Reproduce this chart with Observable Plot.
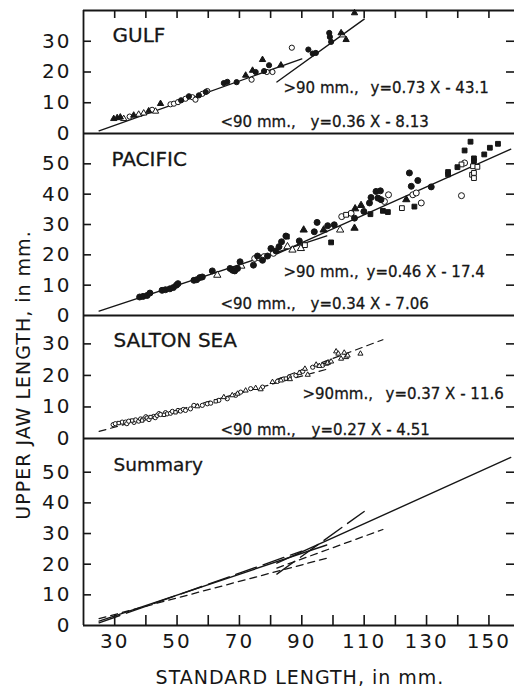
<!DOCTYPE html>
<html>
<head>
<meta charset="utf-8">
<script src="https://cdn.jsdelivr.net/npm/d3@7"></script>
<script src="https://cdn.jsdelivr.net/npm/@observablehq/plot@0.6"></script>
<style>
  body { margin: 0; background: #fff; }
  #fig { position: relative; width: 514px; height: 688px; overflow: hidden; background: #fff;
         font-family: "DejaVu Sans", sans-serif; color: #161616; }
  #fig svg { position: absolute; left: 0; }
  #fig svg [aria-label="y-axis tick label"] text,
  #fig svg [aria-label="x-axis tick label"] text { letter-spacing: 2px; }
  .axis-title { position: absolute; white-space: nowrap; font-size: 19px; letter-spacing: 1px; }
</style>
</head>
<body>
<div id="fig"></div>
<script>
// Each point: standard length (mm), upper jaw length (mm), marker code
// marker code: first letter f = filled / o = open, second c = circle, t = triangle, s = square
const gulfPoints = [
  [29.7,4.8,"ft"],[30.8,5.1,"ft"],[31.8,5.3,"ft"],[32.9,4.8,"ot"],[34.8,5.5,"oc"],[36.1,5.9,"ft"],
  [37.7,6.2,"ot"],[39.3,6.6,"ot"],[40.9,7.3,"ft"],[42.0,7.7,"oc"],[43.1,7.2,"ot"],[44.7,9.7,"ft"],
  [47.9,9.5,"oc"],[49.0,9.7,"oc"],[50.3,10.2,"oc"],[51.3,10.8,"fc"],[52.7,11.3,"oc"],[53.8,12.1,"fc"],
  [54.9,11.8,"oc"],[55.9,11.0,"oc"],[57.0,12.4,"fc"],[58.1,12.9,"oc"],[59.2,13.5,"fc"],[59.7,13.8,"oc"],
  [65.0,16.4,"fc"],[66.1,16.8,"fc"],[69.1,16.7,"fc"],[72.0,18.9,"ft"],[73.9,17.5,"oc"],[74.2,20.5,"ft"],
  [75.2,20.0,"fc"],[77.4,24.0,"ft"],[77.9,20.3,"fc"],[78.8,20.0,"oc"],[79.5,22.2,"fc"],[80.6,20.0,"oc"],
  [83.3,22.2,"ft"],[86.8,27.9,"oc"],[92.1,27.3,"fc"],[93.5,26.0,"fc"],[94.5,26.2,"fc"],[98.8,32.7,"fc"],
  [99.0,31.4,"fc"],[99.4,29.8,"fc"],[102.6,32.7,"ft"],[103.1,32.0,"ot"],[104.2,30.5,"ft"],[106.9,39.2,"ft"]
];

const pacificPoints = [
  [38.0,6.1,"fc"],[39.1,6.3,"fc"],[40.4,6.6,"fc"],[41.3,7.4,"fc"],[45.2,8.3,"fc"],[46.3,8.5,"fc"],
  [47.7,8.8,"fc"],[48.8,9.2,"fc"],[49.8,10.0,"fc"],[50.3,10.5,"fc"],[55.4,11.6,"fc"],[56.3,11.8,"fc"],
  [57.3,12.5,"fc"],[58.1,12.7,"fc"],[61.3,14.7,"fc"],[62.9,13.3,"ot"],[67.0,15.5,"fc"],[67.8,14.9,"fc"],
  [68.5,14.7,"fc"],[69.4,15.5,"fc"],[70.2,17.7,"fc"],[70.6,16.3,"ot"],[74.5,16.6,"fc"],[74.9,18.8,"oc"],
  [75.8,19.6,"fc"],[76.3,19.0,"oc"],[77.4,18.2,"fc"],[77.9,19.4,"oc"],[79.0,19.6,"fc"],[80.1,22.1,"fc"],
  [80.9,20.5,"oc"],[81.7,21.3,"fc"],[82.7,22.7,"fc"],[83.5,24.3,"fc"],[84.9,26.2,"fc"],[85.2,26.0,"fs"],
  [85.4,22.7,"ot"],[87.0,21.6,"ot"],[89.2,24.6,"fc"],[89.7,22.1,"ot"],[90.6,28.2,"ft"],[91.0,23.2,"os"],
  [94.0,27.6,"fc"],[94.9,30.7,"fc"],[97.0,28.2,"ft"],[98.3,29.6,"fc"],[99.4,24.1,"fs"],[100.4,29.9,"fc"],
  [102.3,28.2,"ot"],[102.8,32.6,"oc"],[104.2,33.2,"os"],[105.8,33.7,"oc"],[106.9,32.1,"fc"],[106.9,28.8,"ft"],
  [107.1,35.2,"ft"],[109.0,36.3,"ft"],[109.9,34.3,"fc"],[112.0,33.4,"fs"],[111.7,37.1,"fc"],[112.2,38.9,"fc"],
  [113.8,40.9,"fc"],[115.2,41.1,"fc"],[114.4,38.7,"fc"],[115.4,38.2,"fc"],[116.0,34.5,"fs"],[116.5,37.6,"oc"],
  [117.6,34.1,"fs"],[117.8,39.8,"oc"],[122.1,35.4,"os"],[123.5,38.2,"ft"],[124.5,47.0,"fc"],[125.1,42.6,"fc"],
  [125.6,39.8,"oc"],[126.1,35.9,"fs"],[126.7,40.4,"oc"],[127.2,44.5,"fc"],[128.3,37.1,"oc"],[131.5,42.4,"fc"],
  [136.9,47.3,"fs"],[136.9,46.5,"fs"],[139.9,48.9,"fs"],[141.2,39.5,"oc"],[141.2,49.8,"os"],[142.2,50.3,"oc"],
  [142.2,54.4,"fs"],[144.1,57.3,"fs"],[145.2,51.8,"fs"],[145.2,50.9,"fs"],[144.9,49.2,"os"],[146.3,49.0,"os"],
  [144.6,46.4,"os"],[145.2,47.0,"os"],[145.2,45.3,"os"],[148.5,53.1,"fs"],[150.3,55.3,"fs"],[152.9,56.6,"fs"]
];

const saltonPoints = [
  [29.5,4.4,"oc"],[30.2,4.7,"oc"],[31.3,4.9,"os"],[32.4,5.2,"oc"],[33.5,5.2,"oc"],[33.9,4.7,"oc"],
  [34.5,5.5,"oc"],[35.6,5.7,"os"],[36.2,5.1,"oc"],[36.7,5.9,"oc"],[37.7,5.5,"oc"],[38.3,6.2,"oc"],
  [38.8,5.7,"os"],[39.3,6.2,"oc"],[40.0,6.9,"oc"],[40.4,6.5,"oc"],[41.0,6.0,"oc"],[41.5,6.8,"os"],
  [42.5,7.0,"oc"],[43.0,6.6,"oc"],[43.6,7.3,"oc"],[44.2,7.9,"oc"],[44.7,7.6,"oc"],[45.8,7.5,"os"],
  [46.3,8.2,"oc"],[46.8,7.8,"oc"],[47.9,8.0,"oc"],[48.5,8.6,"oc"],[49.5,8.3,"os"],[50.3,8.9,"oc"],
  [51.1,8.7,"oc"],[52.0,9.2,"oc"],[52.7,8.9,"oc"],[54.3,9.4,"oc"],[55.4,10.5,"oc"],[56.5,10.2,"ot"],
  [58.1,10.5,"oc"],[59.7,11.0,"oc"],[60.8,11.2,"oc"],[62.4,11.8,"os"],[63.4,12.1,"oc"],[65.0,13.1,"ot"],
  [66.1,12.6,"oc"],[67.7,13.7,"ot"],[68.8,13.7,"oc"],[69.4,14.2,"ot"],[70.4,14.7,"oc"],[72.0,15.2,"ot"],
  [73.6,15.8,"oc"],[75.2,16.0,"ot"],[76.8,15.6,"ot"],[77.4,16.3,"oc"],[80.6,17.9,"ot"],[82.2,18.1,"oc"],
  [83.3,18.4,"ot"],[84.9,19.0,"os"],[86.0,19.5,"oc"],[86.2,18.8,"ot"],[88.1,20.0,"oc"],[89.2,20.8,"ot"],
  [90.3,21.3,"oc"],[91.0,22.1,"ot"],[91.9,20.2,"ot"],[93.5,22.6,"oc"],[94.6,23.4,"ot"],[95.6,23.0,"ot"],
  [96.7,23.2,"oc"],[97.8,23.7,"ot"],[98.3,24.0,"ot"],[98.8,24.2,"oc"],[99.4,24.4,"ot"],[101.0,27.6,"ot"],
  [101.7,26.9,"ot"],[102.6,25.3,"ot"],[103.6,27.2,"ot"],[104.2,25.8,"ot"],[104.7,26.3,"ot"],[108.8,26.9,"ot"]
];

// Fitted regressions: y = slope * X + intercept, drawn over the SL range they cover
const fitRegion    = ["GULF", "GULF", "PACIFIC", "PACIFIC", "SALTON SEA", "SALTON SEA"];
const fitSize      = ["<90 mm.,", ">90 mm.,", "<90 mm.,", ">90 mm.,", "<90 mm.,", ">90mm.,"];
const fitSlope     = [0.36, 0.73, 0.34, 0.46, 0.27, 0.37];
const fitIntercept = [-8.13, -43.1, -7.06, -17.4, -4.51, -11.6];
const fitFrom      = [25, 82, 25, 82, 25, 82];
const fitTo        = [90, 110, 98, 157, 99, 116];

const summaryLabel = "Summary";
const xTicks = [30, 40, 50, 60, 70, 80, 90, 100, 110, 120, 130, 140, 150];
const xTickLabels = [30, 50, 70, 90, 110, 130, 150];
const yTicksGulf = [0, 10, 20, 30];
const yTicksPacific = [0, 10, 20, 30, 40, 50];
const yTicksSalton = [0, 10, 20, 30];
const yTicksSummary = [0, 10, 20, 30, 40, 50];
const xTitle = "STANDARD LENGTH, in mm.";
const yTitle = "UPPER JAW LENGTH, in mm.";

// ---------------------------------------------------------------------------
const fig = document.getElementById("fig");
const FONT = "DejaVu Sans, sans-serif";
const INK = "#161616";
const W = 514, ML = 83, MR = 0, PW = W - ML - MR;
const X_DOMAIN = [20, 158.2];

const fits = fitRegion.map((region, i) => ({
  region, size: fitSize[i], slope: fitSlope[i], intercept: fitIntercept[i], from: fitFrom[i], to: fitTo[i]
}));
const fitEnds = fits.flatMap(f => [f.from, f.to].map(x => ({...f, x, y: f.slope * x + f.intercept})));
const equation = f => `y=${f.slope} X - ${Math.abs(f.intercept)}`;

const SHAPES = {c: "circle", t: "triangle", s: "square"};
function pointMarks(points, r) {
  const rows = points.map(([sl, uj, m]) => ({sl, uj, filled: m[0] === "f", shape: SHAPES[m[1]]}));
  const marks = [];
  for (const filled of [false, true]) {
    for (const shape of ["circle", "square", "triangle"]) {
      const sub = rows.filter(d => d.shape === shape && d.filled === filled);
      if (!sub.length) continue;
      marks.push(Plot.dot(sub, {
        x: "sl", y: "uj", symbol: shape,
        r: shape === "triangle" ? r * 0.9 : shape === "square" ? r * 0.9 : r,
        fill: filled ? INK : "white", stroke: INK, strokeWidth: 1
      }));
    }
  }
  return marks;
}

function fitLines(region, dash, width = 1.4) {
  return Plot.line(fitEnds.filter(d => d.region === region), {
    x: "x", y: "y", z: "size", stroke: INK, strokeWidth: width, strokeDasharray: dash
  });
}

function note(text, dx, dy, size) {
  return Plot.text([text], {
    frameAnchor: "top-left", dx, dy, text: d => d,
    textAnchor: "start", lineAnchor: "middle", fontSize: size, fill: INK,
    stroke: INK, strokeWidth: 0.3
  });
}

function equationNotes(region, pos) {
  return fits.filter(f => f.region === region).flatMap((f, i) => {
    const p = pos[i];
    return [note(f.size, p[0], p[2], 15), note(equation(f), p[1], p[2], 15)];
  });
}

function panel({top, bottom, yDomain, yTicks, marks, mt = 6, mb = 6, topTicks = false, xAxis = false}) {
  const ph = bottom - top;
  const inner = yTicks.filter(v => v > 0);
  const all = [
    Plot.axisY(yTicks, {anchor: "left", tickSize: 0, tickPadding: 12, label: null, fontSize: 20, fill: INK}),
    Plot.ruleY(inner, {y: d => d, insetRight: PW - 8, stroke: INK, strokeWidth: 1.6}),
    Plot.ruleY(inner, {y: d => d, insetLeft: PW - 8, stroke: INK, strokeWidth: 1.6}),
    topTicks ? Plot.ruleX(xTicks, {x: d => d, insetBottom: ph - 8, stroke: INK, strokeWidth: 1.6}) : null,
    xAxis ? Plot.ruleX(xTicks, {x: d => d, insetTop: ph - 10, stroke: INK, strokeWidth: 1.6}) : null,
    xAxis ? Plot.axisX(xTickLabels, {anchor: "bottom", tickSize: 0, tickPadding: 8, label: null, fontSize: 20, fill: INK}) : null,
    Plot.ruleX([X_DOMAIN[0]], {stroke: INK, strokeWidth: 1.8}),
    Plot.ruleY([0], {stroke: INK, strokeWidth: 1.8}),
    topTicks ? Plot.ruleY([yDomain[1]], {stroke: INK, strokeWidth: 1.8}) : null,
    ...marks
  ].filter(Boolean);
  const svg = Plot.plot({
    width: W, height: ph + mt + mb,
    marginLeft: ML, marginRight: MR, marginTop: mt, marginBottom: mb,
    x: {domain: X_DOMAIN, axis: null},
    y: {domain: yDomain, axis: null},
    style: {background: "transparent", fontFamily: FONT, fontSize: "20px", color: INK, overflow: "visible"},
    marks: all
  });
  svg.style.top = (top - mt) + "px";
  fig.appendChild(svg);
}

// Gulf of California
panel({
  top: 10, bottom: 133, yDomain: [0, 40], yTicks: yTicksGulf, topTicks: true,
  marks: [
    fitLines("GULF", null),
    ...pointMarks(gulfPoints, 2.6),
    note("GULF", 29, 25.5, 20),
    ...equationNotes("GULF", [[137, 227, 112], [200, 287, 78]])
  ]
});

// Pacific
panel({
  top: 133, bottom: 315, yDomain: [0, 60], yTicks: yTicksPacific,
  marks: [
    fitLines("PACIFIC", null),
    ...pointMarks(pacificPoints, 3),
    note("PACIFIC", 28, 26, 20),
    ...equationNotes("PACIFIC", [[137, 227, 171], [200, 283, 139]])
  ]
});

// Salton Sea
panel({
  top: 315, bottom: 438, yDomain: [0, 39], yTicks: yTicksSalton,
  marks: [
    fitLines("SALTON SEA", "7,5", 1.2),
    ...pointMarks(saltonPoints, 2.1),
    note("SALTON SEA", 30, 25, 20),
    ...equationNotes("SALTON SEA", [[137, 228, 115], [219, 302, 79]])
  ]
});

// Summary of all fitted lines
panel({
  top: 438, bottom: 625, yDomain: [0, 61], yTicks: yTicksSummary, xAxis: true, mb: 40,
  marks: [
    fitLines("GULF", "22,7", 1.4),
    fitLines("PACIFIC", null, 1.4),
    fitLines("SALTON SEA", "7,5", 1.3),
    note(summaryLabel, 30, 27, 18.5)
  ]
});

// Axis titles
const xt = document.createElement("div");
xt.className = "axis-title";
xt.textContent = xTitle;
xt.style.left = "300px"; xt.style.top = "677px";
xt.style.transform = "translate(-50%, -50%)";
fig.appendChild(xt);

const yt = document.createElement("div");
yt.className = "axis-title";
yt.textContent = yTitle;
yt.style.left = "23px"; yt.style.top = "375px";
yt.style.transform = "translate(-50%, -50%) rotate(-90deg)";
fig.appendChild(yt);
</script>
</body>
</html>
